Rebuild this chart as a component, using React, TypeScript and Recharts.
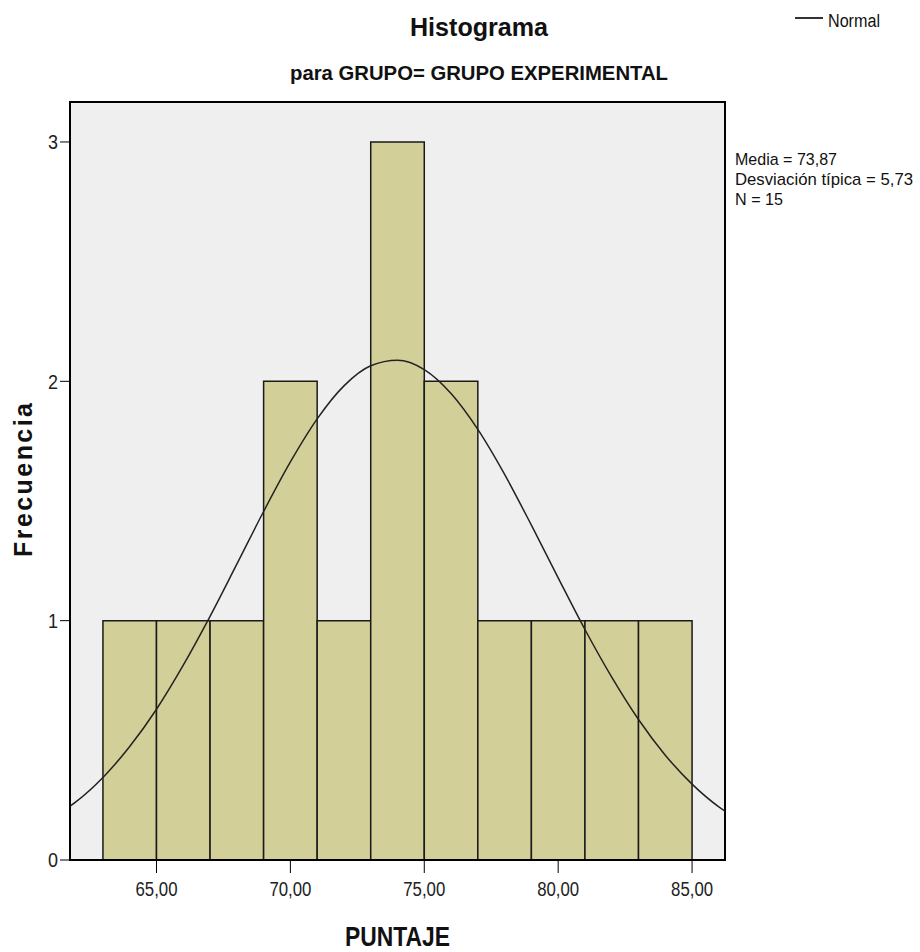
import { ComposedChart, Line, XAxis, YAxis, ReferenceArea, CartesianGrid } from 'recharts';

const binStart = [63, 65, 67, 69, 71, 73, 75, 77, 79, 81, 83];
const binEnd = [65, 67, 69, 71, 73, 75, 77, 79, 81, 83, 85];
const counts = [1, 1, 1, 2, 1, 3, 2, 1, 1, 1, 1];

// normal curve
const curveX = [61.77, 62, 63, 64, 65, 66, 67, 68, 69, 70, 71, 72, 73, 74, 75, 76, 77, 78, 79, 80, 81, 82, 83, 84, 85, 86, 86.23];
const curveY = [0.225, 0.244, 0.345, 0.474, 0.63, 0.814, 1.018, 1.236, 1.456, 1.663, 1.843, 1.981, 2.065, 2.088, 2.049, 1.949, 1.799, 1.611, 1.399, 1.179, 0.963, 0.764, 0.587, 0.438, 0.317, 0.222, 0.204];

const xTicks = [65, 70, 75, 80, 85];
const yTicks = [0, 1, 2, 3];

const stats = ['Media = 73,87', 'Desviación típica = 5,73', 'N = 15'];
const statWidths = [102, 178, 48];

const xMin = 61.77;
const xMax = 86.23;
const yMax = 3.167;

const font = '"Liberation Sans", Arial, sans-serif';

const data = curveX.map((x, i) => ({ x, normal: curveY[i] }));

const XTick = ({ x, y, payload }: any) => (
  <text x={x} y={y} dy="0.71em" textAnchor="middle" fontFamily={font} fontSize={20} fill="#222" textLength={42} lengthAdjust="spacingAndGlyphs">
    {payload.value.toFixed(2).replace('.', ',')}
  </text>
);

const YTick = ({ x, y, payload }: any) => (
  <text x={x} y={y} dy="0.355em" textAnchor="end" fontFamily={font} fontSize={21} fill="#222" textLength={10} lengthAdjust="spacingAndGlyphs">
    {payload.value}
  </text>
);

const App = () => {
  return (
    <div style={{ position: 'absolute', left: 0, top: 0, width: 920, height: 952 }}>
      <ComposedChart width={920} height={952} data={data} margin={{ top: 102, right: 195, bottom: 62, left: 40 }}>
        <CartesianGrid fill="#efefef" horizontal={false} vertical={false} />
        <XAxis
          dataKey="x"
          type="number"
          domain={[xMin, xMax]}
          ticks={xTicks}
          allowDataOverflow
          height={30}
          tick={<XTick />}
          tickSize={13}
          tickMargin={9}
          stroke="#000"
        />
        <YAxis
          type="number"
          domain={[0, yMax]}
          ticks={yTicks}
          allowDataOverflow
          width={30}
          tick={<YTick />}
          tickSize={10}
          tickMargin={2}
          stroke="#000"
        />
        {binStart.map((s, i) => (
          <ReferenceArea
            key={s}
            x1={s}
            x2={binEnd[i]}
            y1={0}
            y2={counts[i]}
            fill="#d3cf98"
            fillOpacity={1}
            stroke="#1a1a1a"
            strokeWidth={1.5}
          />
        ))}
        <Line
          type="monotone"
          dataKey="normal"
          name="Normal"
          stroke="#222"
          strokeWidth={1.5}
          dot={false}
          isAnimationActive={false}
        />
        <ReferenceArea x1={xMin} x2={xMax} y1={0} y2={yMax} fill="none" stroke="#000" strokeWidth={2} />
      </ComposedChart>
      <svg width={920} height={952} style={{ position: 'absolute', left: 0, top: 0, pointerEvents: 'none' }}>
        <g fontFamily={font} fill="#111">
          <text x={410} y={36} fontSize={26} fontWeight="bold" textLength={138} lengthAdjust="spacingAndGlyphs">
            Histograma
          </text>
          <text x={290} y={80} fontSize={21} fontWeight="bold" textLength={378} lengthAdjust="spacingAndGlyphs">
            para GRUPO= GRUPO EXPERIMENTAL
          </text>
          {stats.map((s, i) => (
            <text key={s} x={735} y={165 + i * 20} fontSize={17} textLength={statWidths[i]} lengthAdjust="spacingAndGlyphs">
              {s}
            </text>
          ))}
          <line x1={795} x2={823} y1={18} y2={18} stroke="#333" strokeWidth={2} />
          <text x={828} y={27} fontSize={18} textLength={52} lengthAdjust="spacingAndGlyphs">
            Normal
          </text>
          <text
            x={0}
            y={0}
            transform="translate(32, 480) rotate(-90)"
            textAnchor="middle"
            fontSize={25}
            fontWeight="bold"
            textLength={154}
            lengthAdjust="spacing"
          >
            Frecuencia
          </text>
          <text x={345} y={946} fontSize={28} fontWeight="bold" textLength={105} lengthAdjust="spacingAndGlyphs">
            PUNTAJE
          </text>
        </g>
      </svg>
    </div>
  );
};

export default App;
